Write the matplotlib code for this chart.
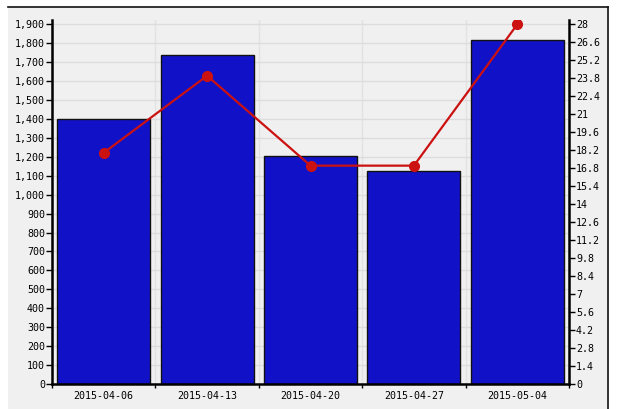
import numpy as np
import matplotlib.pyplot as plt
from matplotlib.patches import Rectangle
from matplotlib.lines import Line2D
from matplotlib.ticker import FuncFormatter, MultipleLocator

# dati
weeks = ['2015-04-06', '2015-04-13', '2015-04-20', '2015-04-27', '2015-05-04']
bar_values = [1400, 1738, 1203, 1127, 1815]
line_values = [18, 24, 17, 17, 28]

blue = '#1111c8'
red = '#cc1111'
bg = '#f0f0f0'

plt.rcParams.update({'font.family': 'DejaVu Sans Mono', 'font.size': 7.2})

fig = plt.figure(figsize=(6.2, 4.09), dpi=100)
fig.patch.set_facecolor('white')

# riquadro grigio con bordo in alto e a destra
fig.patches.append(Rectangle((8/620, 0), 599/620, 402/409, transform=fig.transFigure,
                             facecolor=bg, edgecolor='none', zorder=-10))
fig.lines.append(Line2D([8/620, 607.5/620], [402/409, 402/409], transform=fig.transFigure,
                        color='#111111', lw=1.2))
fig.lines.append(Line2D([607.5/620, 607.5/620], [402/409, 0], transform=fig.transFigure,
                        color='#111111', lw=1.2))

ax = fig.add_axes([52/620, 25/409, 517/620, 364/409])
ax.set_facecolor(bg)
x = np.arange(len(weeks))
ax.bar(x, bar_values, width=0.9, color=blue, edgecolor='#111111', linewidth=1, zorder=2)
top = 1923
ax.set_ylim(0, top)
ax.set_xlim(-0.5, len(weeks) - 0.5)
ax.yaxis.set_major_locator(MultipleLocator(100))
ax.yaxis.set_major_formatter(FuncFormatter(lambda v, p: f'{int(v):,}'))
ax.set_xticks(x)
ax.set_xticklabels(weeks)
ax.set_xticks(np.arange(-0.5, len(weeks)), minor=True)
ax.tick_params(axis='x', which='major', length=0, pad=5)
ax.tick_params(axis='x', which='minor', length=3, width=1, direction='out')
ax.tick_params(axis='y', length=4, width=1, direction='out', pad=1)
ax.grid(True, which='major', axis='y', color='#dddddd', lw=1, zorder=0)
ax.grid(True, which='minor', axis='x', color='#e2e2e2', lw=1, zorder=0)
for s in ['top', 'right']:
    ax.spines[s].set_visible(False)
ax.spines['left'].set_linewidth(1.8)
ax.spines['bottom'].set_linewidth(1.8)

ax2 = ax.twinx()
ax2.plot(x, line_values, color=red, lw=1.6, marker='o', markersize=7, zorder=5)
ax2.set_ylim(0, 28 * top / 1900)
ax2.yaxis.set_major_locator(MultipleLocator(1.4))
ax2.yaxis.set_major_formatter(FuncFormatter(lambda v, p: f'{round(v, 1):g}'))
ax2.tick_params(axis='y', length=4, width=1, direction='out', pad=1)
for s in ['top', 'left', 'bottom']:
    ax2.spines[s].set_visible(False)
ax2.spines['right'].set_linewidth(1.8)

fig.savefig('out.png', dpi=100)
